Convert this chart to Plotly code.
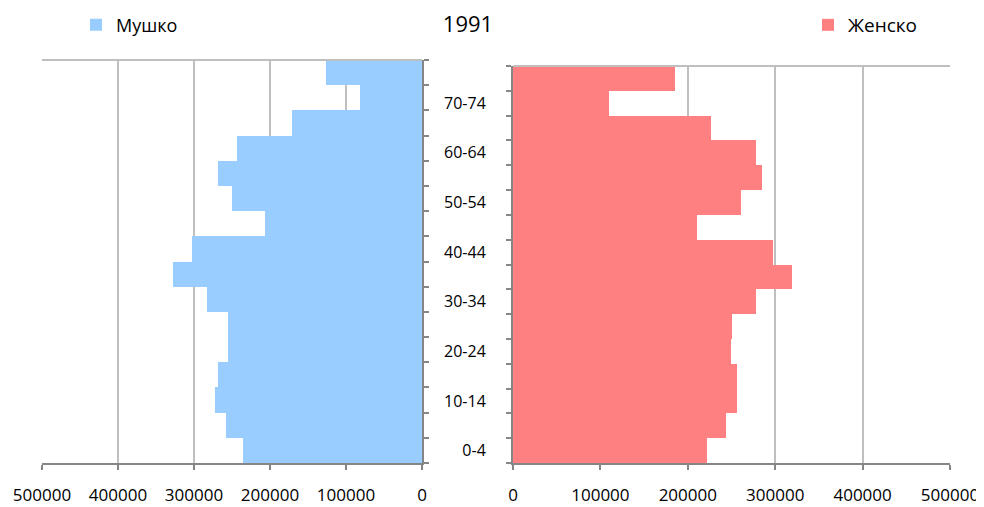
import plotly.graph_objects as go

# Age groups, bottom to top
age_groups = ['0-4', '5-9', '10-14', '15-19', '20-24', '25-29', '30-34', '35-39',
              '40-44', '45-49', '50-54', '55-59', '60-64', '65-69', '70-74', '75+']
male = [236000, 258000, 272000, 269000, 255000, 255000, 283000, 328000,
        302000, 207000, 250000, 269000, 244000, 171000, 82000, 126000]
female = [222000, 244000, 256000, 256000, 249000, 251000, 278000, 319000,
          297000, 210000, 261000, 285000, 278000, 227000, 110000, 185000]
x_ticks = [0, 100000, 200000, 300000, 400000, 500000]
age_labels = [a if i % 2 == 0 else '' for i, a in enumerate(age_groups)]

# page puts the plot 8px in from the top-left corner
OFF = 8
W, H = 984 - OFF, 507 - OFF


def px(x):
    return (x - OFF) / W


def py(y):
    return 1 - (y - OFF) / H


grid_col = '#BFBFBF'
axis_col = '#868686'
font = 'Open Sans'

fig = go.Figure()

fig.add_trace(go.Bar(
    name='Мушко', y=age_groups, x=male, orientation='h',
    marker=dict(color='#99CCFF', line=dict(width=0)),
    xaxis='x', yaxis='y', legend='legend', showlegend=True
))
fig.add_trace(go.Bar(
    name='Женско', y=age_groups, x=female, orientation='h',
    marker=dict(color='#FF8080', line=dict(width=0)),
    xaxis='x2', yaxis='y2', legend='legend2', showlegend=True
))

xcommon = dict(
    tickvals=x_ticks, ticktext=[str(v) for v in x_ticks],
    showgrid=True, gridcolor=grid_col, gridwidth=1.5, zeroline=False,
    showline=True, linecolor=axis_col, linewidth=2,
    ticks='outside', ticklen=5, tickcolor=axis_col, tickwidth=2,
    ticklabelstandoff=11, tickfont=dict(family=font, size=17, color='#000'),
    automargin=False,
)
ycommon = dict(
    type='category', categoryorder='array', categoryarray=age_groups,
    showgrid=False, zeroline=False,
    showline=True, linecolor=axis_col, linewidth=2,
    ticks='outside', ticklen=5, tickcolor=axis_col, tickwidth=2,
    tickson='boundaries', automargin=False,
)

fig.update_layout(
    width=W, height=H,
    margin=dict(l=0, r=0, t=0, b=0, autoexpand=False),
    paper_bgcolor='white', plot_bgcolor='white',
    bargap=0, showlegend=True,
    font=dict(family=font, color='#000'),
    title=dict(text='1991', x=px(468), xanchor='center', y=py(24), yanchor='middle',
               font=dict(family=font, size=22, color='#000'), automargin=False),
    xaxis=dict(domain=[px(42), px(422)], range=[500000, 0], anchor='y', **xcommon),
    yaxis=dict(domain=[py(463), py(60)], anchor='x', side='right',
               showticklabels=False, **ycommon),
    xaxis2=dict(domain=[px(513), px(950)], range=[0, 500000], anchor='y2', **xcommon),
    yaxis2=dict(domain=[py(463), py(66)], anchor='x2', side='left',
                tickvals=age_groups, ticktext=age_labels, ticklabelstandoff=22,
                tickfont=dict(family=font, size=16, color='#000'), **ycommon),
    legend=dict(x=px(76), y=py(25), xanchor='left', yanchor='middle',
                font=dict(family=font, size=18, color='#000'), bgcolor='rgba(0,0,0,0)'),
    legend2=dict(x=px(808), y=py(25), xanchor='left', yanchor='middle',
                 font=dict(family=font, size=19, color='#000'), bgcolor='rgba(0,0,0,0)'),
    shapes=[
        dict(type='line', xref='x domain', yref='y domain', x0=0, x1=1, y0=1, y1=1,
             line=dict(color=grid_col, width=2)),
        dict(type='line', xref='x2 domain', yref='y2 domain', x0=0, x1=1, y0=1, y1=1,
             line=dict(color=grid_col, width=2)),
    ],
)

fig.write_html('out.html')
